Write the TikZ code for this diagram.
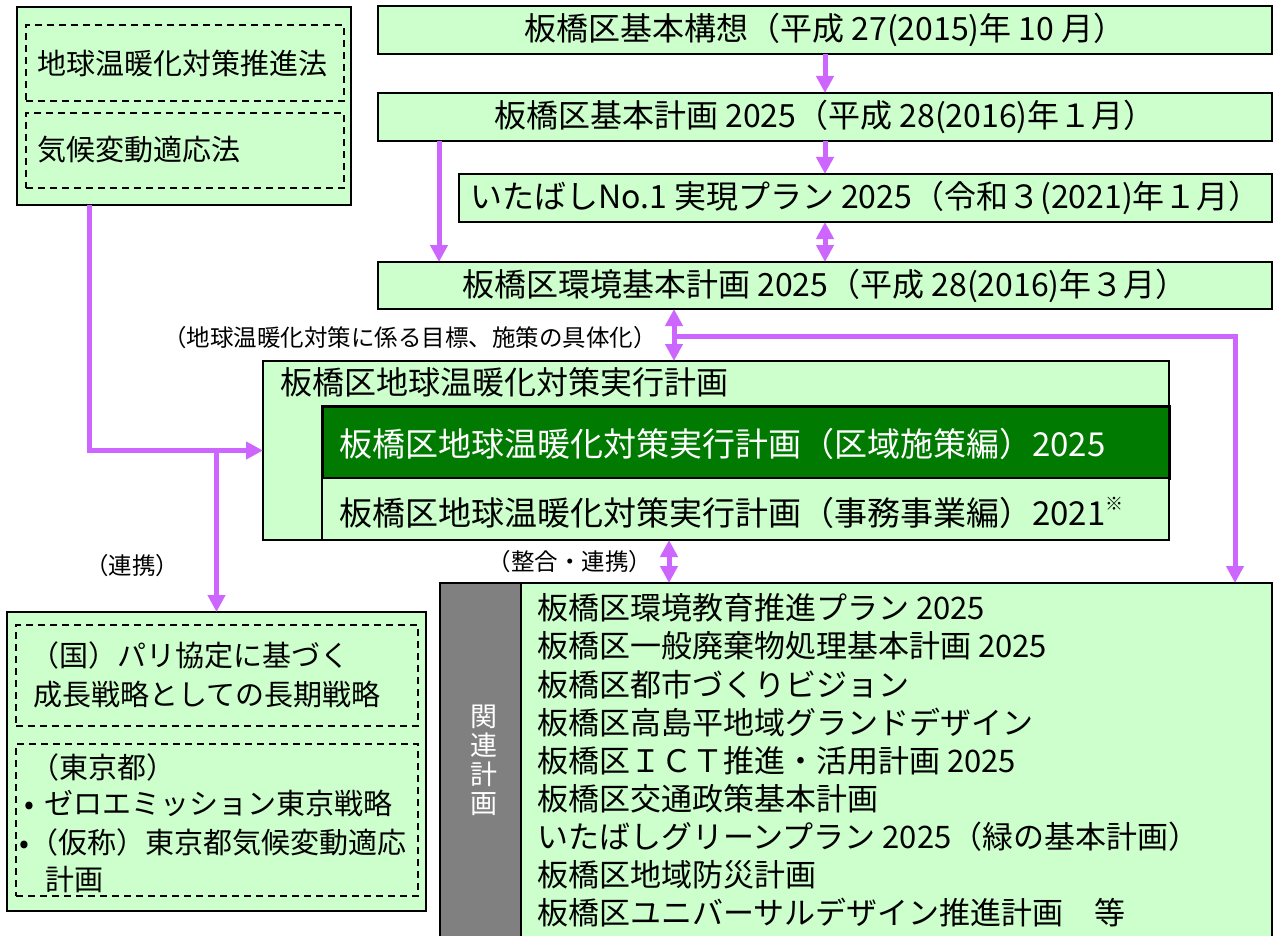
\documentclass[tikz,border=0pt]{standalone}
\usepackage{fontspec}
\setmainfont{Noto Sans CJK JP}
\usetikzlibrary{arrows.meta}
\definecolor{lg}{RGB}{204,255,204}
\definecolor{dg}{RGB}{0,122,0}
\definecolor{pu}{RGB}{204,102,255}
\definecolor{gr}{RGB}{128,128,128}
\newcommand\myfs[1]{\fontsize{#1}{#1}\selectfont}
\tikzset{
  box/.style={draw=black, fill=lg, line width=1.6pt, inner sep=0pt, outer sep=0pt},
  dbox/.style={draw=black, line width=1.5pt, dash pattern=on 7pt off 5pt, inner sep=0pt, outer sep=0pt},
  arr/.style={draw=pu, line width=5pt, -{Triangle[length=17pt,width=17pt]}},
  darr/.style={draw=pu, line width=5pt, {Triangle[length=17pt,width=17pt]}-{Triangle[length=17pt,width=17pt]}},
  toptxt/.style={font=\myfs{32}},
  lt/.style={inner sep=0pt, anchor=west},
  lefttxt/.style={lt, font=\myfs{29}},
  reltxt/.style={lt, font=\myfs{31}},
  ptxt/.style={lt, font=\myfs{29}},
  smalllbl/.style={inner sep=0pt, font=\myfs{23.5}},
}
\begin{document}
\begin{tikzpicture}[x=1pt,y=-1pt]
\useasboundingbox (0,0) rectangle (1274,936);
% top chain
\node[box, minimum width=894pt, minimum height=48pt, toptxt] (B1) at (825,30) {板橋区基本構想（平成 27(2015)年 10 月）};
\node[box, minimum width=894pt, minimum height=48pt, toptxt] (B2) at (825,117) {板橋区基本計画 2025（平成 28(2016)年１月）};
\node[box, minimum width=813pt, minimum height=48pt, toptxt] (B3) at (865.5,198) {いたばしNo.1 実現プラン 2025（令和３(2021)年１月）};
\node[box, minimum width=894pt, minimum height=47pt, toptxt] (B4) at (825,285.5) {板橋区環境基本計画 2025（平成 28(2016)年３月）};
% left laws box
\node[box, minimum width=334pt, minimum height=198pt] (L) at (184,106) {};
\node[dbox, minimum width=318pt, minimum height=76pt] (L1) at (185,63) {};
\node[dbox, minimum width=318pt, minimum height=75pt] (L2) at (185,150.5) {};
\node[lefttxt] (L1t) at (37,63) {地球温暖化対策推進法};
\node[lefttxt] (L2t) at (37,150) {気候変動適応法};
% main plan box
\node[box, minimum width=906pt, minimum height=179pt] (M) at (716,450.5) {};
\node[lt, font=\myfs{32}] (Mt) at (280,382) {板橋区地球温暖化対策実行計画};
\node[box, fill=dg, line width=3pt, minimum width=847pt, minimum height=72pt] (D) at (745.5,442) {};
\node[lt, font=\myfs{33}, text=white] (Dt) at (339,444) {板橋区地球温暖化対策実行計画（区域施策編）2025};
\node[box, minimum width=847pt, minimum height=62pt] (S) at (745.5,509) {};
\node[lt, font=\myfs{33}] (St) at (339,513) {板橋区地球温暖化対策実行計画（事務事業編）2021\raisebox{0.45em}{\myfs{18}※}};
% Paris / Tokyo box
\node[box, minimum width=419pt, minimum height=299pt] (P) at (216.5,761.5) {};
\node[dbox, minimum width=402pt, minimum height=101pt] (P1) at (217,675.5) {};
\node[dbox, minimum width=402pt, minimum height=152pt] (P2) at (217,820) {};
\node[ptxt] (Pa) at (30,655) {（国）パリ協定に基づく};
\node[ptxt] (Pb) at (33,695) {成長戦略としての長期戦略};
\node[ptxt] (Pc) at (30,767) {（東京都）};
\node[ptxt] (Pd) at (24,803) {•\hspace{10pt}ゼロエミッション東京戦略};
\node[ptxt] (Pe) at (19,842) {•（仮称）東京都気候変動適応};
\node[ptxt] (Pf) at (45,880) {計画};
% related plans
\node[box, minimum width=832pt, minimum height=357pt] (R) at (856,761.5) {};
\node[box, fill=gr, minimum width=81pt, minimum height=357pt] (G) at (480.5,761.5) {};
\node[inner sep=0pt, font=\myfs{27}, text=white, align=center] (Gt) at (484,760) {関\\[2pt]連\\[2pt]計\\[2pt]画};
\node[reltxt] (r1) at (537,608) {板橋区環境教育推進プラン 2025};
\node[reltxt] (r2) at (537,646) {板橋区一般廃棄物処理基本計画 2025};
\node[reltxt] (r3) at (537,684.5) {板橋区都市づくりビジョン};
\node[reltxt] (r4) at (537,722.5) {板橋区高島平地域グランドデザイン};
\node[reltxt] (r5) at (537,760.5) {板橋区ＩＣＴ推進・活用計画 2025};
\node[reltxt] (r6) at (537,798.5) {板橋区交通政策基本計画};
\node[reltxt] (r7) at (537,836.5) {いたばしグリーンプラン 2025（緑の基本計画）};
\node[reltxt] (r8) at (537,874.5) {板橋区地域防災計画};
\node[reltxt] (r9) at (537,912.5) {板橋区ユニバーサルデザイン推進計画　等};
% labels
\node[smalllbl] (lb1) at (410,338) {（地球温暖化対策に係る目標、施策の具体化）};
\node[smalllbl] (lb2) at (570,562) {（整合・連携）};
\node[smalllbl] (lb3) at (132,566) {（連携）};
% connectors
\coordinate (kx) at (674,0);
\coordinate (lx) at (669,0);
\coordinate (rx) at (1235,0);
\coordinate (j1) at (674,336);
\coordinate (ax) at (439,0);
\coordinate (cx) at (89,0);
\draw[arr] (B1.south) -- (B2.north);
\draw[arr] (B2.south) -- (B2.south |- B3.north);
\draw[darr] (B3.south -| B1.south) -- (B4.north -| B1.south);
\draw[arr] (B2.south -| ax) -- (B4.north -| ax);
\draw[darr] (B4.south -| kx) -- (M.north -| kx);
\draw[arr] (j1) -| (R.north -| rx);
\draw[arr] (L.south -| cx) |- (M.west);
\draw[arr] (P.north |- M.west) -- (P.north);
\draw[darr] (M.south -| lx) -- (R.north -| lx);
\end{tikzpicture}
\end{document}
